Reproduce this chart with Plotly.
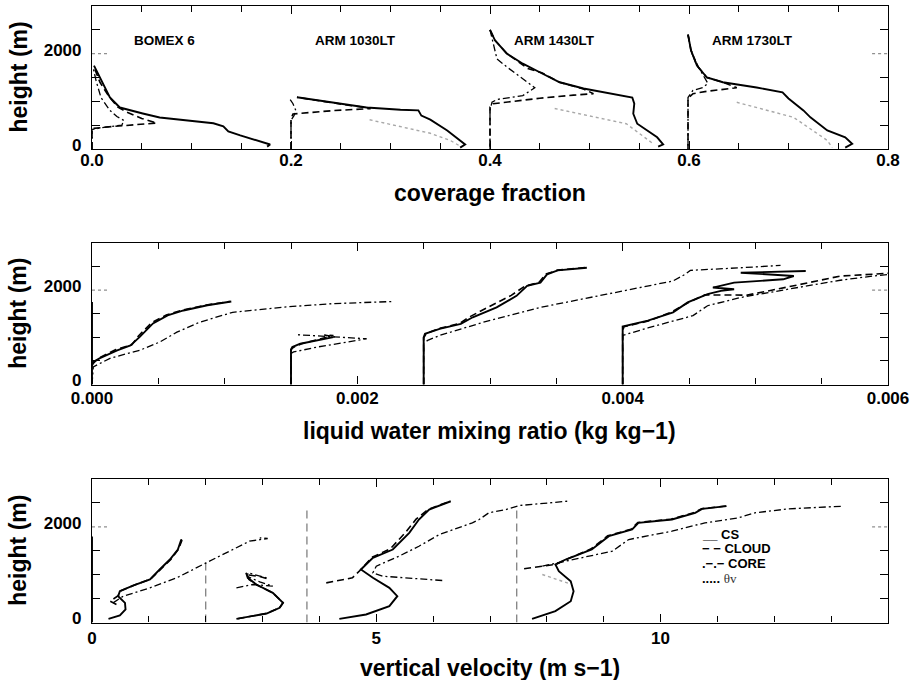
import plotly.graph_objects as go

# ---------------- coverage fraction (offset per case: 0, 0.2, 0.4, 0.6) ----------------
cov_bomex_cs_x = [0.002, 0.008, 0.018, 0.028, 0.038, 0.051, 0.068, 0.095, 0.122, 0.132, 0.137, 0.149, 0.166, 0.179, 0.176]
cov_bomex_cs_z = [1750, 1500, 1080, 870, 810, 745, 660, 600, 540, 475, 370, 285, 180, 95, 50]
cov_bomex_cloud_x = [0.000, 0.000, 0.020, 0.045, 0.065, 0.050, 0.035, 0.026, 0.017, 0.008, 0.004, 0.002]
cov_bomex_cloud_z = [0, 430, 470, 510, 545, 640, 775, 880, 1100, 1400, 1600, 1720]
cov_bomex_core_x = [0.000, 0.000, 0.012, 0.030, 0.032, 0.025, 0.018, 0.009, 0.004, 0.001]
cov_bomex_core_z = [0, 410, 455, 500, 600, 680, 810, 1080, 1440, 1720]

cov_1030_cs_x = [0.206, 0.226, 0.259, 0.276, 0.310, 0.328, 0.331, 0.340, 0.357, 0.370, 0.375, 0.370]
cov_1030_cs_z = [1085, 1020, 913, 870, 825, 810, 700, 615, 390, 180, 95, 30]
cov_1030_cloud_x = [0.200, 0.200, 0.202, 0.242, 0.280, 0.276, 0.259, 0.226, 0.206]
cov_1030_cloud_z = [0, 640, 735, 805, 848, 870, 913, 1020, 1085]
cov_1030_core_x = [0.200, 0.200, 0.203, 0.205, 0.202, 0.199]
cov_1030_core_z = [0, 600, 700, 800, 950, 1040]
cov_1030_thv_x = [0.279, 0.310, 0.340, 0.360, 0.370]
cov_1030_thv_z = [613, 470, 330, 180, 60]

cov_1430_cs_x = [0.400, 0.405, 0.417, 0.433, 0.450, 0.470, 0.494, 0.524, 0.543, 0.545, 0.544, 0.548, 0.558, 0.568, 0.574, 0.569]
cov_1430_cs_z = [2500, 2280, 2000, 1790, 1610, 1400, 1270, 1160, 1080, 950, 740, 530, 390, 245, 95, 50]
cov_1430_cloud_x = [0.400, 0.405, 0.417, 0.438, 0.452, 0.470, 0.494, 0.504, 0.484, 0.450, 0.403, 0.400, 0.400]
cov_1430_cloud_z = [2500, 2280, 2000, 1690, 1600, 1400, 1260, 1160, 1130, 1065, 950, 880, 0]
cov_1430_core_x = [0.400, 0.407, 0.417, 0.433, 0.445, 0.433, 0.407, 0.402, 0.400, 0.400]
cov_1430_core_z = [2500, 1890, 1720, 1475, 1285, 1120, 1040, 980, 810, 0]
cov_1430_thv_x = [0.465, 0.537, 0.564]
cov_1430_thv_z = [850, 530, 110]

cov_1730_cs_x = [0.599, 0.602, 0.608, 0.618, 0.634, 0.668, 0.694, 0.700, 0.715, 0.722, 0.739, 0.757, 0.764, 0.757]
cov_1730_cs_z = [2400, 2070, 1750, 1500, 1400, 1290, 1190, 1060, 810, 665, 390, 245, 110, 30]
cov_1730_cloud_x = [0.599, 0.602, 0.608, 0.618, 0.634, 0.648, 0.618, 0.604, 0.599, 0.599]
cov_1730_cloud_z = [2400, 2070, 1750, 1500, 1400, 1285, 1210, 1160, 1060, 0]
cov_1730_core_x = [0.599, 0.603, 0.610, 0.614, 0.619, 0.614, 0.604, 0.599, 0.599]
cov_1730_core_z = [2400, 2000, 1700, 1545, 1375, 1290, 1230, 1080, 0]
cov_1730_thv_x = [0.648, 0.705, 0.739, 0.744]
cov_1730_thv_z = [980, 665, 180, 30]

# ---------------- liquid water mixing ratio (offsets 0, 0.0015, 0.0025, 0.004) ----------------
ql_bomex_base_x = [0.0, 0.0]
ql_bomex_base_z = [0, 1750]
ql_bomex_cs_x = [0.0, 0.00001, 0.00006, 0.00019, 0.00029, 0.00036, 0.00046, 0.00057, 0.00069, 0.00087, 0.00105]
ql_bomex_cs_z = [400, 480, 560, 725, 830, 1010, 1295, 1465, 1570, 1680, 1760]
ql_bomex_cloud_x = [0.0, 0.00005, 0.00018, 0.00030, 0.00035, 0.00045, 0.00056, 0.00068, 0.00086, 0.00104]
ql_bomex_cloud_z = [420, 560, 740, 840, 1030, 1310, 1475, 1575, 1685, 1760]
ql_bomex_core_x = [0.0, 0.00001, 0.00014, 0.00036, 0.00051, 0.00064, 0.00081, 0.00106, 0.00144, 0.00182, 0.00227]
ql_bomex_core_z = [0, 375, 560, 725, 900, 1110, 1320, 1530, 1640, 1715, 1760]

ql_1030_cs_x = [0.0015, 0.0015, 0.00151, 0.00157, 0.00182]
ql_1030_cs_z = [0, 740, 795, 865, 1005]
ql_1030_cloud_x = [0.0015, 0.0015, 0.00152, 0.00158, 0.00182, 0.00175, 0.00183]
ql_1030_cloud_z = [0, 740, 790, 865, 1040, 1050, 1010]
ql_1030_core_x = [0.0015, 0.0015, 0.00152, 0.00170, 0.00207, 0.00182, 0.00155]
ql_1030_core_z = [0, 660, 690, 795, 970, 1005, 1055]

ql_1430_cs_x = [0.0025, 0.0025, 0.00251, 0.00262, 0.00278, 0.00287, 0.00305, 0.00320, 0.00328, 0.00338, 0.00343, 0.00351, 0.00373]
ql_1430_cs_z = [0, 1000, 1075, 1180, 1285, 1425, 1635, 1880, 2090, 2160, 2335, 2420, 2475]
ql_1430_cloud_x = [0.0025, 0.0025, 0.00252, 0.00262, 0.00277, 0.00285, 0.00300, 0.00316, 0.00326, 0.00337, 0.00342, 0.00351, 0.00372]
ql_1430_cloud_z = [0, 990, 1080, 1190, 1295, 1440, 1660, 1890, 2080, 2170, 2340, 2425, 2480]
ql_1430_core_x = [0.0025, 0.0025, 0.00253, 0.00262, 0.00295, 0.00338, 0.00388, 0.00438, 0.00447, 0.00451, 0.00489, 0.00519]
ql_1430_core_z = [0, 880, 935, 1040, 1320, 1635, 1915, 2195, 2335, 2420, 2475, 2525]

ql_1730_cs_x = [0.004, 0.004, 0.00400, 0.00419, 0.00438, 0.00449, 0.00464, 0.00474, 0.00484, 0.00468, 0.00484, 0.00521, 0.00529, 0.00489, 0.00538]
ql_1730_cs_z = [0, 1145, 1230, 1355, 1530, 1740, 1915, 1985, 2020, 2055, 2160, 2230, 2300, 2370, 2405]
ql_1730_cloud_x = [0.004, 0.004, 0.00401, 0.00420, 0.00437, 0.00450, 0.00462, 0.00494, 0.00530, 0.00564, 0.00590, 0.00610]
ql_1730_cloud_z = [0, 1140, 1225, 1350, 1540, 1745, 1900, 1895, 2100, 2300, 2340, 2380]
ql_1730_core_x = [0.004, 0.004, 0.00400, 0.00419, 0.00453, 0.00464, 0.00489, 0.00539, 0.00564, 0.00589, 0.00610]
ql_1730_core_z = [0, 1000, 1040, 1200, 1460, 1670, 1845, 2090, 2210, 2300, 2360]

# ---------------- vertical velocity ----------------
w_bomex_base_x = [0.0, 0.0]
w_bomex_base_z = [0, 1800]
w_bomex_cs_x = [0.29, 0.49, 0.59, 0.58, 0.46, 0.49, 0.72, 1.02, 1.19, 1.37, 1.51, 1.57]
w_bomex_cs_z = [77, 146, 272, 411, 550, 654, 773, 899, 1108, 1317, 1526, 1735]
w_bomex_cloud_x = [0.43, 0.32, 0.46, 0.50, 0.74, 1.03, 1.21, 1.39, 1.52, 1.58, 1.55]
w_bomex_cloud_z = [376, 445, 560, 660, 780, 905, 1115, 1325, 1530, 1710, 1760]
w_bomex_core_x = [0.37, 0.55, 1.02, 1.49, 2.01, 2.48, 2.77, 3.09, 2.95]
w_bomex_core_z = [411, 550, 725, 934, 1248, 1526, 1700, 1756, 1770]

w_1030_cs_x = [2.54, 3.07, 3.30, 3.36, 3.18, 2.89, 2.74, 2.71]
w_1030_cs_z = [77, 188, 307, 411, 620, 794, 934, 1039]
w_1030_cloud_x = [2.56, 3.07, 3.30, 3.36, 3.18, 2.89, 2.76, 2.72, 2.95, 3.12]
w_1030_cloud_z = [80, 190, 310, 415, 620, 790, 900, 1000, 960, 900]
w_1030_core_x = [2.54, 2.83, 3.18, 2.95, 2.74, 2.74, 3.07]
w_1030_core_z = [725, 794, 760, 850, 960, 1039, 934]

w_1430_cs_x = [4.35, 4.82, 5.23, 5.37, 5.23, 4.94, 4.73, 4.94, 5.29, 5.58, 5.75, 5.93, 6.31]
w_1430_cs_z = [77, 167, 341, 550, 725, 934, 1108, 1352, 1526, 1875, 2153, 2362, 2535]
w_1430_cloud_x = [4.12, 4.58, 4.73, 4.92, 5.25, 5.52, 5.70, 5.92, 6.30]
w_1430_cloud_z = [829, 934, 1108, 1360, 1545, 1890, 2160, 2370, 2535]
w_1430_core_x = [6.16, 5.11, 4.94, 5.00, 5.40, 5.75, 6.11, 6.69, 6.81, 6.98, 7.28, 7.51, 8.36]
w_1430_core_z = [878, 968, 1039, 1178, 1386, 1595, 1839, 2083, 2153, 2293, 2362, 2445, 2535]

w_1730_cs_x = [7.74, 8.15, 8.42, 8.47, 8.42, 8.21, 8.15, 8.33, 8.79, 9.03, 9.09, 9.50, 9.61, 10.20, 10.61, 10.73, 11.16]
w_1730_cs_z = [77, 237, 445, 654, 863, 1073, 1213, 1317, 1526, 1735, 1804, 1944, 2083, 2153, 2293, 2376, 2432]
w_1730_cloud_x = [7.60, 7.86, 8.17, 8.35, 8.77, 9.00, 9.07, 9.48, 9.60, 10.18, 10.60, 10.72, 11.15]
w_1730_cloud_z = [1122, 1164, 1220, 1325, 1535, 1745, 1812, 1950, 2090, 2160, 2300, 2380, 2435]
w_1730_core_x = [7.92, 8.44, 9.15, 9.44, 10.20, 10.78, 11.37, 11.66, 12.25, 13.21]
w_1730_core_z = [1178, 1317, 1491, 1735, 1909, 2083, 2188, 2293, 2376, 2432]
w_1730_thv_x = [7.92, 8.39]
w_1730_thv_z = [1003, 815]

# reference verticals separating the cases in the velocity panel
w_ref_x = [2.0, 3.78, 7.47]
w_ref_top = [1280, 2430, 2430]

case_names = ["BOMEX 6", "ARM 1030LT", "ARM 1430LT", "ARM 1730LT"]
case_label_x = [0.073, 0.265, 0.465, 0.664]

STYLES = {
    "cs": dict(color="black", width=1.9, dash="solid"),
    "cloud": dict(color="black", width=1.6, dash="7px,4px"),
    "core": dict(color="black", width=1.3, dash="7px,3px,2px,3px"),
    "thv": dict(color="#a8a8a8", width=1.4, dash="dot"),
    "ref": dict(color="#808080", width=1.3, dash="8px,5px"),
}

curves = [
    (1, "thv", cov_1030_thv_x, cov_1030_thv_z),
    (1, "thv", cov_1430_thv_x, cov_1430_thv_z),
    (1, "thv", cov_1730_thv_x, cov_1730_thv_z),
    (1, "core", cov_bomex_core_x, cov_bomex_core_z),
    (1, "cloud", cov_bomex_cloud_x, cov_bomex_cloud_z),
    (1, "cs", cov_bomex_cs_x, cov_bomex_cs_z),
    (1, "core", cov_1030_core_x, cov_1030_core_z),
    (1, "cloud", cov_1030_cloud_x, cov_1030_cloud_z),
    (1, "cs", cov_1030_cs_x, cov_1030_cs_z),
    (1, "core", cov_1430_core_x, cov_1430_core_z),
    (1, "cloud", cov_1430_cloud_x, cov_1430_cloud_z),
    (1, "cs", cov_1430_cs_x, cov_1430_cs_z),
    (1, "core", cov_1730_core_x, cov_1730_core_z),
    (1, "cloud", cov_1730_cloud_x, cov_1730_cloud_z),
    (1, "cs", cov_1730_cs_x, cov_1730_cs_z),

    (2, "cs", ql_bomex_base_x, ql_bomex_base_z),
    (2, "core", ql_bomex_core_x, ql_bomex_core_z),
    (2, "cloud", ql_bomex_cloud_x, ql_bomex_cloud_z),
    (2, "cs", ql_bomex_cs_x, ql_bomex_cs_z),
    (2, "core", ql_1030_core_x, ql_1030_core_z),
    (2, "cloud", ql_1030_cloud_x, ql_1030_cloud_z),
    (2, "cs", ql_1030_cs_x, ql_1030_cs_z),
    (2, "core", ql_1430_core_x, ql_1430_core_z),
    (2, "cloud", ql_1430_cloud_x, ql_1430_cloud_z),
    (2, "cs", ql_1430_cs_x, ql_1430_cs_z),
    (2, "core", ql_1730_core_x, ql_1730_core_z),
    (2, "cloud", ql_1730_cloud_x, ql_1730_cloud_z),
    (2, "cs", ql_1730_cs_x, ql_1730_cs_z),

    (3, "cs", w_bomex_base_x, w_bomex_base_z),
    (3, "thv", w_1730_thv_x, w_1730_thv_z),
    (3, "core", w_bomex_core_x, w_bomex_core_z),
    (3, "cloud", w_bomex_cloud_x, w_bomex_cloud_z),
    (3, "cs", w_bomex_cs_x, w_bomex_cs_z),
    (3, "core", w_1030_core_x, w_1030_core_z),
    (3, "cloud", w_1030_cloud_x, w_1030_cloud_z),
    (3, "cs", w_1030_cs_x, w_1030_cs_z),
    (3, "core", w_1430_core_x, w_1430_core_z),
    (3, "cloud", w_1430_cloud_x, w_1430_cloud_z),
    (3, "cs", w_1430_cs_x, w_1430_cs_z),
    (3, "core", w_1730_core_x, w_1730_core_z),
    (3, "cloud", w_1730_cloud_x, w_1730_cloud_z),
    (3, "cs", w_1730_cs_x, w_1730_cs_z),
]

fig = go.Figure()

for xr, top in zip(w_ref_x, w_ref_top):
    fig.add_trace(go.Scatter(x=[xr, xr], y=[0, top], mode="lines", line=STYLES["ref"],
                             xaxis="x3", yaxis="y3", showlegend=False, hoverinfo="skip"))

for panel, kind, xs, zs in curves:
    sfx = "" if panel == 1 else str(panel)
    fig.add_trace(go.Scatter(x=xs, y=zs, mode="lines", line=STYLES[kind],
                             xaxis="x" + sfx, yaxis="y" + sfx,
                             showlegend=False, hoverinfo="skip"))

W, H = 918, 680
X0, X1 = 92, 888
panel_px = [(6, 149), (243, 384.5), (479, 622.5)]

FONT = "Liberation Sans, Arial, Helvetica, sans-serif"
tickfont = dict(family=FONT, size=17, color="black", weight="bold")

x_specs = [
    dict(range=[0, 0.8], tickvals=[0, 0.2, 0.4, 0.6, 0.8], tickformat=".1f", minor=0.05, standoff=-5),
    dict(range=[0, 0.006], tickvals=[0, 0.002, 0.004, 0.006], tickformat=".3f", minor=0.0005, standoff=-2),
    dict(range=[0, 14], tickvals=[0, 5, 10], tickformat="d", minor=1, standoff=0),
]

layout = dict(
    template="none",
    width=W, height=H, margin=dict(l=0, r=0, t=0, b=0, autoexpand=False),
    paper_bgcolor="white", plot_bgcolor="white", showlegend=False,
)
for i, ((top, bot), xs) in enumerate(zip(panel_px, x_specs)):
    sfx = "" if i == 0 else str(i + 1)
    layout["xaxis" + sfx] = dict(
        domain=[X0 / W, X1 / W], anchor="y" + sfx, range=xs["range"],
        tickvals=xs["tickvals"], tickformat=xs["tickformat"], automargin=False,
        showline=True, linecolor="black", linewidth=1.2, mirror="ticks",
        ticks="inside", ticklen=8, tickcolor="black", tickwidth=1,
        ticklabelstandoff=xs["standoff"],
        minor=dict(dtick=xs["minor"], tick0=0, ticks="inside", ticklen=6, tickcolor="black", showgrid=False),
        showgrid=False, zeroline=False, tickfont=tickfont, fixedrange=True,
    )
    layout["yaxis" + sfx] = dict(
        domain=[1 - bot / H, 1 - top / H], anchor="x" + sfx, range=[0, 3000],
        tickvals=[0, 2000], ticktext=["0", "2000"], automargin=False,
        showline=True, linecolor="black", linewidth=1.2, mirror="ticks",
        ticks="inside", ticklen=0, tickcolor="black",
        minor=dict(tickvals=[500, 1000, 1500, 2500], ticks="inside", ticklen=8, tickcolor="black", showgrid=False),
        showgrid=False, zeroline=False, tickfont=tickfont, ticklabelstandoff=6,
        ticklabelshift=-4, fixedrange=True,
    )

fig.update_layout(**layout)

# dotted major ticks at 2000 m on both sides of every panel
for i in range(3):
    sfx = "" if i == 0 else str(i + 1)
    for a, b in [(0, 0.02), (0.98, 1.0)]:
        fig.add_shape(type="line", xref="x" + sfx + " domain", yref="y" + sfx,
                      x0=a, x1=b, y0=2000, y1=2000,
                      line=dict(color="#909090", width=1.2, dash="dot"))

anns = []
# case labels in the coverage panel
for name, xl in zip(case_names, case_label_x):
    anns.append(dict(x=xl, y=2280, xref="x", yref="y", text=name, showarrow=False,
                     xanchor="center", yanchor="middle",
                     font=dict(family=FONT, size=13.5, color="black", weight="bold")))

title_font = dict(family=FONT, size=23, color="black", weight="bold")
for top, bot in panel_px:
    anns.append(dict(x=18 / W, y=1 - (top + bot) / 2 / H, xref="paper", yref="paper",
                     xanchor="center", yanchor="middle",
                     text="height (m)", textangle=-90, showarrow=False, font=title_font))
for txt, yc in [("coverage fraction", 193), ("liquid water mixing ratio (kg kg\u22121)", 431),
                ("vertical velocity (m s\u22121)", 668)]:
    anns.append(dict(x=490 / W, y=1 - yc / H, xref="paper", yref="paper", text=txt,
                     xanchor="center", yanchor="middle", showarrow=False, font=title_font))

# legend as text lines
legend_font = dict(family=FONT, size=13, color="black", weight="bold")
legend_rows = [("__ CS", 534), ("\u2212 \u2212 CLOUD", 548), (".\u2212.\u2212 CORE", 563)]
for txt, yc in legend_rows:
    anns.append(dict(x=700 / W, y=1 - yc / H, xref="paper", yref="paper", text=txt,
                     showarrow=False, xanchor="left", yanchor="middle", font=legend_font))
anns.append(dict(x=700 / W, y=1 - 578 / H, xref="paper", yref="paper",
                 text="<b>.....</b> <span style='font-family:Liberation Serif, Times New Roman, serif;font-weight:normal;color:#333'>\u03b8v</span>",
                 showarrow=False, xanchor="left", yanchor="middle", font=legend_font))

fig.update_layout(annotations=anns)
fig.write_html("out.html")
